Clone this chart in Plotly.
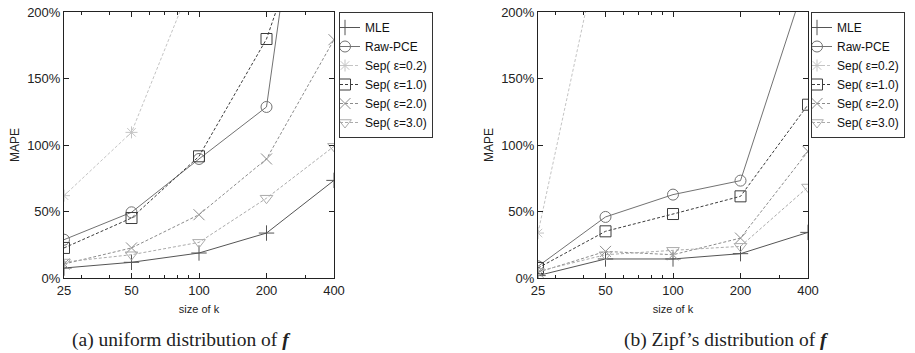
import plotly.graph_objects as go

k_sizes = [25, 50, 100, 200, 400]
tick_labels = ["25", "50", "100", "200", "400"]
series_names = ["MLE", "Raw-PCE", "Sep( \u03b5=0.2)", "Sep( \u03b5=1.0)", "Sep( \u03b5=2.0)", "Sep( \u03b5=3.0)"]

# (a) uniform distribution of f  (MAPE in %)
uni_mle = [7.5, 11.8, 18.8, 33.8, 73.4]
uni_raw = [28.8, 49.4, 89.5, 128.6, 490]
uni_sep02 = [61.9, 109.5, 236, 400, 600]
uni_sep10 = [22.6, 45.1, 91.5, 179.7, 327]
uni_sep20 = [10.5, 22.6, 47.6, 89.5, 179.2]
uni_sep30 = [12.0, 17.5, 26.8, 60.0, 99.0]

# (b) Zipf's distribution of f
zipf_mle = [1.8, 14.3, 14.3, 18.3, 34.3]
zipf_raw = [8.8, 45.9, 62.7, 73.2, 229]
zipf_sep02 = [33.8, 270, 400, 500, 600]
zipf_sep10 = [7.5, 35.1, 48.1, 61.4, 130.3]
zipf_sep20 = [4.3, 20.0, 17.5, 30.0, 95.2]
zipf_sep30 = [5.0, 17.5, 20.8, 23.8, 68.4]

colors = ["#555555", "#727272", "#c4c4c4", "#3c3c3c", "#8c8c8c", "#ababab"]
symbols = ["cross-thin-open", "circle-open", "asterisk-open", "square-open", "x-thin-open", "triangle-down-open"]
dashes = ["solid", "solid", "3px,2px", "3px,2px", "3px,2px", "3px,2px"]
msizes = [11, 11, 10, 11, 11, 11]

panels = [
    ([uni_mle, uni_raw, uni_sep02, uni_sep10, uni_sep20, uni_sep30], "x", "y", "legend"),
    ([zipf_mle, zipf_raw, zipf_sep02, zipf_sep10, zipf_sep20, zipf_sep30], "x2", "y2", "legend2"),
]

fig = go.Figure()
for data, xa, ya, lg in panels:
    for i, vals in enumerate(data):
        fig.add_trace(go.Scatter(
            x=k_sizes, y=vals, name=series_names[i], mode="lines+markers",
            xaxis=xa, yaxis=ya, legend=lg,
            line=dict(color=colors[i], width=1, dash=dashes[i]),
            marker=dict(symbol=symbols[i], size=msizes[i], color=colors[i],
                        line=dict(color=colors[i], width=1)),
        ))

W, H = 915, 353
def fx(px):
    return px / W
def fy(py):
    return 1 - py / H

axis_common = dict(
    type="log", range=[1.39794, 2.60206], tickmode="array",
    tickvals=k_sizes, ticktext=tick_labels,
    ticks="inside", ticklen=5, tickcolor="#222", showline=True, linecolor="#222",
    linewidth=1, mirror="ticks", showgrid=False, zeroline=False, automargin=False,
    tickfont=dict(family="Liberation Sans, Arial", size=13, color="#222"),
    minor=dict(tickvals=[30, 40, 60, 70, 80, 90, 300], ticks="inside", ticklen=3, tickcolor="#222"),
    title=dict(text="size of k", font=dict(family="Liberation Sans, Arial", size=11, color="#222"), standoff=8),
)
yaxis_common = dict(
    range=[0, 200], tickmode="array", tickvals=[0, 50, 100, 150, 200],
    ticktext=["0%", "50%", "100%", "150%", "200%"],
    ticks="inside", ticklen=5, tickcolor="#222", showline=True, linecolor="#222",
    linewidth=1, mirror="ticks", showgrid=False, zeroline=False, automargin=False,
    tickfont=dict(family="Liberation Sans, Arial", size=13, color="#222"),
    title=dict(text="MAPE", font=dict(family="Liberation Sans, Arial", size=12, color="#222"), standoff=4),
)

legend_common = dict(
    bgcolor="white", bordercolor="#333", borderwidth=1,
    font=dict(family="Liberation Sans, Arial", size=12, color="#111"),
    xanchor="left", yanchor="top", itemwidth=30, tracegroupgap=0, indentation=-15,
)

fig.update_layout(
    width=W, height=H, margin=dict(l=0, r=0, t=0, b=0, autoexpand=False),
    paper_bgcolor="white", plot_bgcolor="white",
    xaxis=dict(domain=[fx(64), fx(334)], anchor="y", **axis_common),
    yaxis=dict(domain=[fy(278), fy(12)], anchor="x", **yaxis_common),
    xaxis2=dict(domain=[fx(538), fx(808)], anchor="y2", **axis_common),
    yaxis2=dict(domain=[fy(278), fy(12)], anchor="x2", **yaxis_common),
    legend=dict(x=fx(339), y=fy(12), **legend_common),
    legend2=dict(x=fx(811), y=fy(12), **legend_common),
    annotations=[
        dict(text="(a) uniform distribution of <b><i>f</i></b>", x=fx(181), y=fy(340),
             xref="paper", yref="paper", showarrow=False, xanchor="center", yanchor="middle",
             font=dict(family="Liberation Serif, DejaVu Serif", size=19.5, color="#222")),
        dict(text="(b) Zipf\u2019s distribution of <b><i>f</i></b>", x=fx(726), y=fy(340),
             xref="paper", yref="paper", showarrow=False, xanchor="center", yanchor="middle",
             font=dict(family="Liberation Serif, DejaVu Serif", size=19.5, color="#222")),
    ],
    showlegend=True,
)

fig.write_html("out.html", config={"displayModeBar": False},
               post_script="document.body.style.margin='0';document.body.style.overflow='hidden';")
